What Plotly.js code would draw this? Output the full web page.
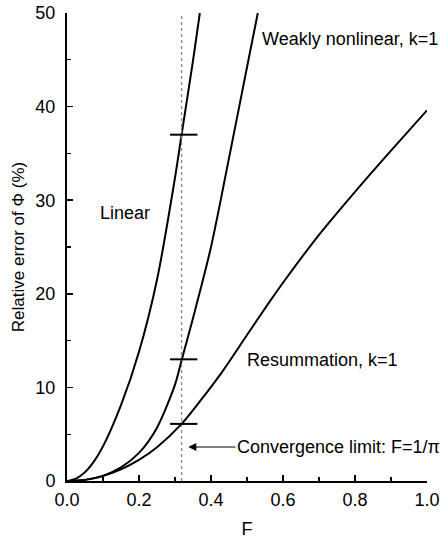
<!DOCTYPE html>
<html>
<head>
<meta charset="utf-8">
<script src="https://cdn.plot.ly/plotly-3.0.1.min.js"></script>
<style>html,body{margin:0;padding:0;background:#fff;}#chart{width:442px;height:544px;}</style>
</head>
<body>
<div id="chart"></div>
<script>
// Data
const linearF = [0, 0.025, 0.05, 0.075, 0.1, 0.15, 0.2, 0.25, 0.3, 0.3183, 0.35, 0.369];
const linearV = [0, 0.25, 0.95, 2.1, 3.7, 8.1, 13.8, 21.5, 32.4, 37.0, 44.9, 50.0];

const weakF = [0, 0.05, 0.1, 0.15, 0.2, 0.25, 0.3, 0.3183, 0.35, 0.4, 0.45, 0.5, 0.53];
const weakV = [0, 0.12, 0.55, 1.45, 3.0, 5.7, 10.3, 12.9, 17.4, 25.0, 34.5, 44.2, 50.0];

const resumF = [0, 0.05, 0.1, 0.15, 0.2, 0.25, 0.3183, 0.369, 0.428, 0.5, 0.56, 0.606, 0.7, 0.8, 0.9, 1.0];
const resumV = [0, 0.12, 0.55, 1.25, 2.25, 3.6, 6.1, 8.5, 11.5, 15.6, 19.0, 21.5, 26.3, 30.9, 35.3, 39.6];

const convergenceF = 1 / Math.PI;
const crossValues = [37.0, 13.0, 6.1];

const xTickVals = [0, 0.2, 0.4, 0.6, 0.8, 1.0];
const yTickVals = [0, 10, 20, 30, 40, 50];

const FONT = '"Liberation Sans", Arial, sans-serif';
const curveLine = {color: '#000', width: 2, shape: 'spline', smoothing: 0.8};

const traces = [
  {x: linearF, y: linearV, mode: 'lines', line: curveLine, hoverinfo: 'skip'},
  {x: weakF, y: weakV, mode: 'lines', line: curveLine, hoverinfo: 'skip'},
  {x: resumF, y: resumV, mode: 'lines', line: curveLine, hoverinfo: 'skip'},
  {x: [convergenceF, convergenceF], y: [0, 50], mode: 'lines',
   line: {color: '#888', width: 1.3, dash: 'dot'}, hoverinfo: 'skip'}
];
crossValues.forEach(v => {
  traces.push({x: [convergenceF - 0.032, convergenceF + 0.044], y: [v, v], mode: 'lines',
    line: {color: '#000', width: 2}, hoverinfo: 'skip'});
});

const layout = {
  width: 442, height: 544,
  margin: {l: 67, r: 15, t: 13, b: 63},
  showlegend: false,
  paper_bgcolor: '#fff', plot_bgcolor: '#fff',
  font: {family: FONT, size: 18, color: '#000'},
  xaxis: {
    range: [0, 1], tickvals: xTickVals, tickformat: '.1f',
    ticks: 'inside', ticklen: 6, tickwidth: 1.5, tickcolor: '#000',
    minor: {dtick: 0.1, ticks: 'inside', ticklen: 4, tickwidth: 1.2, tickcolor: '#000'},
    showline: true, linewidth: 2, linecolor: '#000', showgrid: false, zeroline: false,
    tickfont: {family: FONT, size: 18}, ticklabelstandoff: 1,
    title: {text: 'F', font: {family: FONT, size: 18}, standoff: 14}
  },
  yaxis: {
    range: [0, 50], tickvals: yTickVals,
    ticks: 'inside', ticklen: 6, tickwidth: 1.5, tickcolor: '#000',
    minor: {dtick: 5, ticks: 'inside', ticklen: 4, tickwidth: 1.2, tickcolor: '#000'},
    showline: true, linewidth: 2, linecolor: '#000', showgrid: false, zeroline: false,
    tickfont: {family: FONT, size: 18}, ticklabelstandoff: 6,
    title: {text: 'Relative error of Φ (%)', font: {family: FONT, size: 17}, standoff: 6}
  },
  annotations: [
    {x: 0.085, y: 28.6, xref: 'x', yref: 'y', text: 'Linear', showarrow: false,
     xanchor: 'left', yanchor: 'middle', font: {family: FONT, size: 18}},
    {x: 0.536, y: 47.2, xref: 'x', yref: 'y', text: 'Weakly nonlinear, k=1', showarrow: false,
     xanchor: 'left', yanchor: 'middle', font: {family: FONT, size: 18}},
    {x: 0.494, y: 12.9, xref: 'x', yref: 'y', text: 'Resummation, k=1', showarrow: false,
     xanchor: 'left', yanchor: 'middle', font: {family: FONT, size: 18}},
    {x: 0.337, y: 3.63, xref: 'x', yref: 'y', ax: 0.468, ay: 3.63, axref: 'x', ayref: 'y',
     text: 'Convergence limit: F=1/π', showarrow: true, arrowhead: 2, arrowsize: 1.6,
     arrowwidth: 1, arrowcolor: '#000', xanchor: 'left', yanchor: 'middle',
     font: {family: FONT, size: 18}}
  ]
};

Plotly.newPlot('chart', traces, layout, {staticPlot: true, displayModeBar: false});
</script>
</body>
</html>
